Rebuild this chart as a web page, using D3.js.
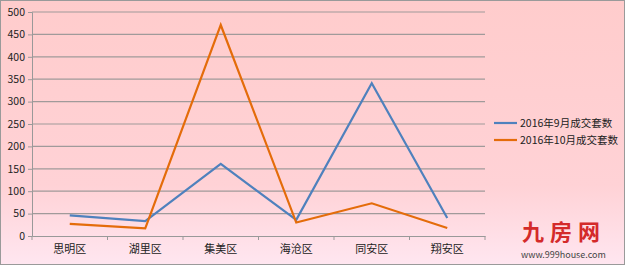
<!DOCTYPE html>
<html>
<head>
<meta charset="utf-8">
<script src="https://cdn.jsdelivr.net/npm/d3@7"></script>
<style>
  body { margin: 0; }
  text { font-family: "Noto Sans CJK SC", "DejaVu Sans", sans-serif; }
</style>
</head>
<body>
<div id="chart"></div>
<script>
// Data
const districts = ['思明区', '湖里区', '集美区', '海沧区', '同安区', '翔安区'];
const sepDeals = [46, 33, 161, 36, 341, 40];
const octDeals = [27, 17, 471, 30, 73, 18];
const seriesNames = ['2016年9月成交套数', '2016年10月成交套数'];
const seriesColors = ['#4f81bd', '#e46c0a'];
const yTicks = [0, 50, 100, 150, 200, 250, 300, 350, 400, 450, 500];

const width = 625;
const height = 265;
const margin = { top: 12, right: 140, bottom: 29, left: 32 };

const svg = d3.select('#chart').append('svg')
  .attr('width', width)
  .attr('height', height);

// Background gradient
const defs = svg.append('defs');
const grad = defs.append('linearGradient')
  .attr('id', 'bg')
  .attr('x1', 0).attr('y1', 0).attr('x2', 0).attr('y2', 1);
grad.append('stop').attr('offset', '0%').attr('stop-color', '#ffcccc');
grad.append('stop').attr('offset', '70%').attr('stop-color', '#ffd2d6');
grad.append('stop').attr('offset', '100%').attr('stop-color', '#ffe6f0');

svg.append('rect')
  .attr('x', 0.5).attr('y', 0.5)
  .attr('width', width - 1).attr('height', height - 1)
  .attr('fill', 'url(#bg)')
  .attr('stroke', '#9a9a9a');

const x = d3.scaleBand()
  .domain(districts)
  .range([margin.left, 485]);

const y = d3.scaleLinear()
  .domain([0, 500])
  .range([height - margin.bottom, margin.top]);

// Gridlines
svg.append('g')
  .selectAll('line')
  .data(yTicks.filter(d => d > 0))
  .join('line')
  .attr('x1', margin.left).attr('x2', 485)
  .attr('y1', d => y(d)).attr('y2', d => y(d))
  .attr('stroke', '#a09a9a')
  .attr('stroke-width', 1.2);

// Y axis
const yAxis = svg.append('g')
  .attr('transform', `translate(${margin.left},0)`)
  .call(d3.axisLeft(y).tickValues(yTicks).tickSize(4).tickPadding(3));
yAxis.select('.domain').attr('stroke', '#999');
yAxis.selectAll('.tick line').attr('stroke', '#999');
yAxis.selectAll('.tick text')
  .attr('font-size', 10.5)
  .attr('fill', '#222');

// X axis
const xAxis = svg.append('g')
  .attr('transform', `translate(0,${y(0)})`)
  .call(d3.axisBottom(x).tickSize(0).tickPadding(9));
xAxis.select('.domain').attr('stroke', '#999').attr('stroke-width', 1.2);
xAxis.selectAll('.tick text')
  .attr('font-size', 11)
  .attr('fill', '#222');
xAxis.append('g')
  .selectAll('line')
  .data(districts.concat([null]))
  .join('line')
  .attr('x1', (d, i) => margin.left + i * x.step())
  .attr('x2', (d, i) => margin.left + i * x.step())
  .attr('y1', 0).attr('y2', 4)
  .attr('stroke', '#999');

// Lines
const line = d3.line()
  .x((d, i) => x(districts[i]) + x.bandwidth() / 2)
  .y(d => y(d));

[sepDeals, octDeals].forEach((vals, i) => {
  svg.append('path')
    .datum(vals)
    .attr('fill', 'none')
    .attr('stroke', seriesColors[i])
    .attr('stroke-width', 2.2)
    .attr('stroke-linejoin', 'miter')
    .attr('d', line);
});

// Legend
const legend = svg.append('g')
  .attr('transform', 'translate(494,123)');
seriesNames.forEach((name, i) => {
  const g = legend.append('g').attr('transform', `translate(0,${i * 17})`);
  g.append('line')
    .attr('x1', 0).attr('x2', 23)
    .attr('stroke', seriesColors[i])
    .attr('stroke-width', 2.2);
  g.append('text')
    .attr('x', 26).attr('y', 4)
    .attr('font-size', 10.5)
    .attr('fill', '#222')
    .text(name);
});

// Watermark logo
svg.append('text')
  .attr('x', 522).attr('y', 240)
  .attr('font-size', 22)
  .attr('fill', '#d42a2a')
  .attr('font-weight', 'bold')
  .attr('letter-spacing', 6)
  .text('九房网');
svg.append('text')
  .attr('x', 521).attr('y', 258)
  .attr('font-size', 9)
  .attr('fill', '#444')
  .attr('font-family', 'Arial, "Liberation Sans", sans-serif')
  .text('www.999house.com');
</script>
</body>
</html>
